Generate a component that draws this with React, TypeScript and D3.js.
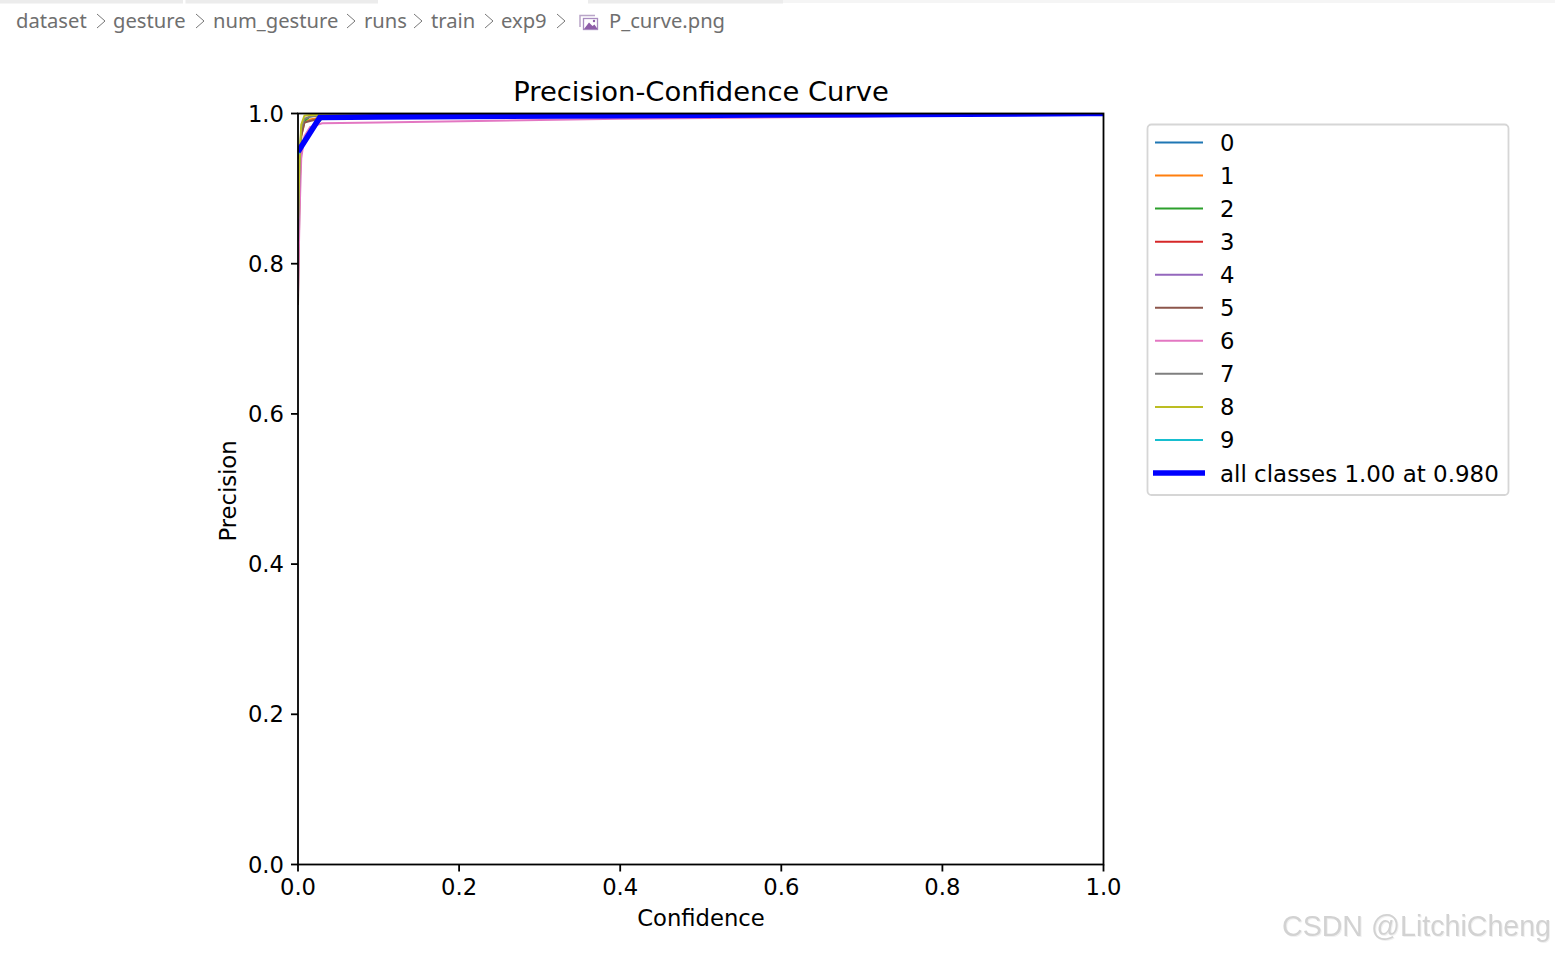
import React from "react";
import * as d3 from "d3";

const W = 1555, H = 953;
const xTicks = [0, 0.2, 0.4, 0.6, 0.8, 1.0];
const yTicks = [0, 0.2, 0.4, 0.6, 0.8, 1.0];
const classes = ["0", "1", "2", "3", "4", "5", "6", "7", "8", "9"];
const colors = ["#1f77b4", "#ff7f0e", "#2ca02c", "#d62728", "#9467bd", "#8c564b", "#e377c2", "#7f7f7f", "#bcbd22", "#17becf"];
const conf = [0, 0.002, 0.004, 0.008, 0.015, 0.03, 0.1, 0.4, 0.7, 1];
const s0 = [0.94, 0.95, 0.955, 0.962, 0.975, 0.995, 0.997, 0.998, 0.999, 1];
const s1 = [0.8, 0.9, 0.97, 0.988, 0.992, 0.995, 0.996, 0.998, 0.999, 1];
const s2 = [0.85, 0.93, 0.975, 0.99, 0.996, 0.998, 0.998, 0.999, 1, 1];
const s3 = [0.94, 0.948, 0.954, 0.96, 0.974, 0.994, 0.996, 0.998, 0.999, 1];
const s4 = [0.945, 0.952, 0.958, 0.964, 0.976, 0.996, 0.998, 0.999, 1, 1];
const s5 = [0.745, 0.9, 0.97, 0.988, 0.99, 0.994, 0.995, 0.997, 0.999, 1];
const s6 = [0.76, 0.87, 0.94, 0.97, 0.982, 0.987, 0.988, 0.993, 0.996, 1];
const s7 = [0.83, 0.93, 0.98, 0.993, 0.996, 0.998, 0.999, 0.999, 1, 1];
const s8 = [0.86, 0.94, 0.985, 0.997, 0.998, 0.998, 0.999, 1, 1, 1];
const s9 = [0.945, 0.95, 0.956, 0.963, 0.975, 0.994, 0.996, 0.998, 0.999, 1];
const seriesValues = [s0, s1, s2, s3, s4, s5, s6, s7, s8, s9];
const allConf = [0, 0.027, 0.1, 0.4, 0.7, 0.98, 1];
const allVals = [0.949, 0.9947, 0.9955, 0.9972, 0.9985, 1, 1];
const crumbs = ["dataset", "gesture", "num_gesture", "runs", "train", "exp9"];
const crumbX = [16, 113, 213, 364, 431, 501];
const chevX = [97, 196, 347, 414, 485, 557];

const x = d3.scaleLinear().domain([0, 1]).range([298, 1103.5]);
const y = d3.scaleLinear().domain([0, 1]).range([864.5, 113.5]);
const line = (xs: number[], ys: number[]) =>
  d3.line<number>().x((_, i) => x(xs[i])).y((d) => y(d))(ys) ?? "";

const FONT = "'DejaVu Sans', sans-serif";
const CRUMB = "'Noto Sans', sans-serif";
const LABEL = 22.7;

export default function App() {
  const legendStep = 33.05;
  return (
    <svg width={W} height={H} style={{ position: "absolute", left: 0, top: 0, background: "#fff" }}>
      <rect x={0} y={0} width={183} height={3.5} fill="#ececec" />
      <rect x={185.5} y={0} width={192.5} height={3.5} fill="#ececec" />
      <rect x={588} y={0} width={195} height={3.5} fill="#ececec" />
      <rect x={783} y={0} width={772} height={3} fill="#f5f5f5" />
      {crumbs.map((c, i) => (
        <text key={c} x={crumbX[i]} y={28} fontFamily={CRUMB} fontSize={20.2} fill="#6f6f6f">{c}</text>
      ))}
      {chevX.map((cx) => (
        <path key={cx} d={`M${cx} 14 L${cx + 8} 21 L${cx} 28`} fill="none" stroke="#777" strokeWidth={1} />
      ))}
      <path d="M580 27 V15.5 H595" fill="none" stroke="#b9a5c8" strokeWidth={1.5} />
      <rect x={583.5} y={18.5} width={14} height={11} fill="#fff" stroke="#a98cc0" strokeWidth={1.3} />
      <path d="M584 29 L589 22.5 L592.5 26 L594.5 24.5 L597.5 29 Z" fill="#8e5ea8" />
      <circle cx={594} cy={21} r={1.2} fill="#8e5ea8" />
      <text x={609} y={28} fontFamily={CRUMB} fontSize={20.2} fill="#6f6f6f">P_curve.png</text>

      <text x={701} y={101} textAnchor="middle" fontFamily={FONT} fontSize={27.4} fill="#000">Precision-Confidence Curve</text>

      <clipPath id="plot"><rect x={298} y={113.5} width={805.5} height={751} /></clipPath>
      <g clipPath="url(#plot)">
        {seriesValues.map((s, i) => (
          <path key={i} d={line(conf, s)} fill="none" stroke={colors[i]} strokeWidth={2} />
        ))}
        <path d={line(allConf, allVals)} fill="none" stroke="#0000ff" strokeWidth={5.6} />
      </g>

      <rect x={298} y={113.5} width={805.5} height={751} fill="none" stroke="#000" strokeWidth={1.8} />

      {xTicks.map((t) => (
        <g key={t}>
          <line x1={x(t)} x2={x(t)} y1={864.5} y2={871.5} stroke="#000" strokeWidth={1.8} />
          <text x={x(t)} y={895} textAnchor="middle" fontFamily={FONT} fontSize={LABEL} fill="#000">{t.toFixed(1)}</text>
        </g>
      ))}
      {yTicks.map((t) => (
        <g key={t}>
          <line x1={291} x2={298} y1={y(t)} y2={y(t)} stroke="#000" strokeWidth={1.8} />
          <text x={284} y={y(t) + 8} textAnchor="end" fontFamily={FONT} fontSize={LABEL} fill="#000">{t.toFixed(1)}</text>
        </g>
      ))}
      <text x={701} y={925.6} textAnchor="middle" fontFamily={FONT} fontSize={LABEL} fill="#000">Confidence</text>
      <text transform="translate(236,491) rotate(-90)" textAnchor="middle" fontFamily={FONT} fontSize={LABEL} fill="#000">Precision</text>

      <rect x={1147.5} y={124.5} width={361} height={370.5} rx={4} fill="#fff" stroke="#d6d6d6" strokeWidth={1.8} />
      {classes.map((c, i) => (
        <g key={c}>
          <line x1={1155} x2={1203} y1={142.5 + i * legendStep} y2={142.5 + i * legendStep} stroke={colors[i]} strokeWidth={2} />
          <text x={1220} y={150.8 + i * legendStep} fontFamily={FONT} fontSize={LABEL} fill="#000">{c}</text>
        </g>
      ))}
      <line x1={1153} x2={1205} y1={473} y2={473} stroke="#0000ff" strokeWidth={5.6} />
      <text x={1220} y={481.6} fontFamily={FONT} fontSize={22.95} fill="#000">all classes 1.00 at 0.980</text>

      <text x={1282} y={936} fontFamily="'Liberation Sans', sans-serif" fontSize={28.6} fill="#d2d2d2" style={{ filter: "drop-shadow(1px 1px 0 #f0f0f0)" }}>CSDN @LitchiCheng</text>
    </svg>
  );
}
